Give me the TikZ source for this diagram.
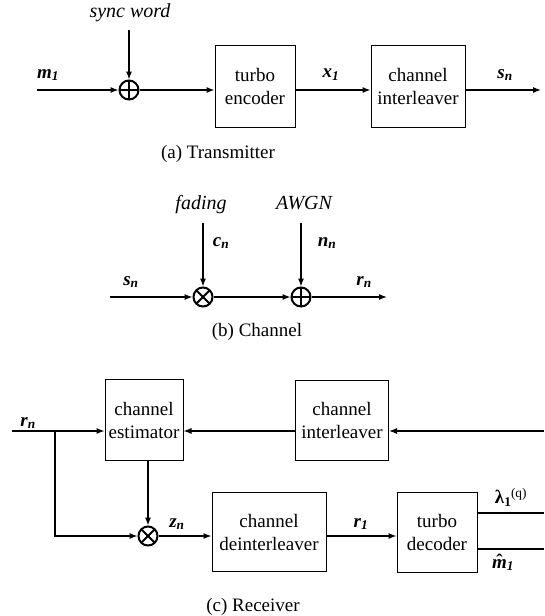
\documentclass[tikz,border=0pt]{standalone}
\usepackage{fontspec}
\setmainfont{Liberation Serif}
\usetikzlibrary{arrows.meta}
\newcommand\vlab[2]{\textbf{\textit{#1}}\textsubscript{\textbf{\textit{#2}}}}
\newcommand\hatm{\ooalign{\textbf{\textit{m}}\cr\hidewidth\raisebox{1pt}{\textbf{ˆ}}\hidewidth\cr}}
\begin{document}
\begin{tikzpicture}[x=1pt,y=-1pt,
  line width=1.1pt,
  blk/.style={draw, line width=1pt, align=center, inner sep=0pt,
    font=\fontsize{19}{23}\selectfont},
  lbl/.style={font=\fontsize{19}{21}\selectfont, inner sep=0pt},
  captxt/.style={font=\fontsize{19}{22}\selectfont, inner sep=0pt},
  ital/.style={font=\fontsize{20}{22}\selectfont\itshape, inner sep=0pt},
  opsum/.style={draw, circle, line width=2pt, minimum size=19pt, inner sep=0pt,
    path picture={\draw[line width=1.8pt]
      (path picture bounding box.north) -- (path picture bounding box.south)
      (path picture bounding box.west) -- (path picture bounding box.east);}},
  opmul/.style={draw, circle, line width=2pt, minimum size=19pt, inner sep=0pt,
    path picture={\draw[line width=1.8pt]
      (path picture bounding box.north west) -- (path picture bounding box.south east)
      (path picture bounding box.south west) -- (path picture bounding box.north east);}},
  arr/.style={-{Latex[length=8pt,width=6pt]}}
]
\useasboundingbox (0,0) rectangle (544,616);

% ---------- (a) Transmitter ----------
\node[ital] (sync) at (130,13) {sync word};
\coordinate (synce) at (129,30);
\node[opsum] (sum1) at (129,90) {};
\coordinate (min) at (37,90);
\node[lbl] (m1) at (48,75) {\vlab{m}{1}};
\node[blk, minimum width=80pt, minimum height=82pt] (enc) at (255,86) {turbo\\encoder};
\node[lbl] (x1) at (331,75) {\vlab{x}{1}};
\node[blk, minimum width=94pt, minimum height=82pt] (intl) at (418,86) {channel\\interleaver};
\node[lbl] (sn1) at (505,75) {\vlab{s}{n}};
\coordinate (sout) at (541,90);
\node[captxt] (capa) at (218,154) {(a) Transmitter};

\draw[arr] (synce) -- (sum1.north);
\draw[arr] (min) -- (sum1.west);
\draw[arr] (sum1.east) -- (sum1 -| enc.west);
\draw[arr] (enc.east |- sum1) -- (sum1 -| intl.west);
\draw[arr] (intl.east |- sum1) -- (sout);

% ---------- (b) Channel ----------
\node[ital] (fad) at (201,205) {fading};
\coordinate (fade) at (203,223);
\node[opmul] (mul1) at (203,297) {};
\node[lbl] (cn) at (221,243) {\vlab{c}{n}};
\node[ital] (awgn) at (304,203) {AWGN};
\coordinate (awgne) at (301,223);
\node[opsum] (sum2) at (301,297) {};
\node[lbl] (nn) at (327,243) {\vlab{n}{n}};
\coordinate (sin) at (110,297);
\node[lbl] (sn2) at (131,282) {\vlab{s}{n}};
\node[lbl] (rn2) at (364,282) {\vlab{r}{n}};
\coordinate (rout) at (387,297);
\node[captxt] (capb) at (257,332) {(b) Channel};

\draw[arr] (fade) -- (mul1.north);
\draw[arr] (awgne) -- (sum2.north);
\draw[arr] (sin) -- (mul1.west);
\draw[arr] (mul1.east) -- (sum2.west);
\draw[arr] (sum2.east) -- (rout);

% ---------- (c) Receiver ----------
\coordinate (rin) at (12,431);
\node[lbl] (rn3) at (28,423) {\vlab{r}{n}};
\coordinate (br) at (55,431);
\node[blk, minimum width=78pt, minimum height=81pt] (est) at (144,420) {channel\\estimator};
\node[blk, minimum width=93pt, minimum height=80pt] (rint) at (342,420) {channel\\interleaver};
\coordinate (fb) at (544,431);
\node[opmul] (mul2) at (148,536) {};
\coordinate (corner) at (55,536);
\node[lbl] (zn) at (177,524) {\vlab{z}{n}};
\node[blk, minimum width=114pt, minimum height=79pt] (deint) at (269,532) {channel\\deinterleaver};
\node[lbl] (r1) at (361,524) {\vlab{r}{1}};
\node[blk, minimum width=80pt, minimum height=80pt] (dec) at (437,532) {turbo\\decoder};
\coordinate (lamout) at (544,513);
\coordinate (mout) at (544,549);
\node[lbl] (lam) at (511,497) {\textbf{λ}\textsubscript{\textbf{1}}\kern-0.5pt\textsuperscript{(q)}};
\node[lbl] (mhat) at (503,565) {\hatm\textsubscript{\textbf{\textit{1}}}};
\node[captxt] (capc) at (253,607) {(c) Receiver};

\draw[arr] (rin) -- (rin -| est.west);
\draw[arr] (fb) -- (fb -| rint.east);
\draw[arr] (rint.west |- fb) -- (fb -| est.east);
\draw[arr] (br) -- (corner) -- (mul2.west);
\draw[arr] (mul2 |- est.south) -- (mul2.north);
\draw[arr] (mul2.east) -- (mul2 -| deint.west);
\draw[arr] (deint.east |- mul2) -- (mul2 -| dec.west);
\draw (dec.east |- lamout) -- (lamout);
\draw (dec.east |- mout) -- (mout);
\end{tikzpicture}
\end{document}
